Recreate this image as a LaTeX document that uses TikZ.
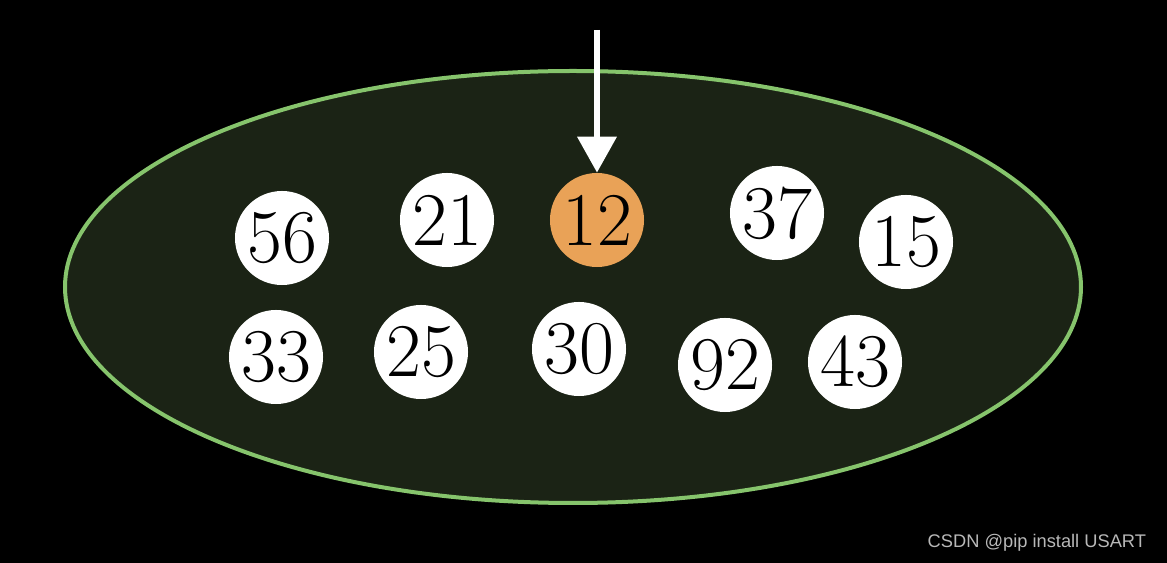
\documentclass[tikz,border=0pt]{standalone}
\usepackage{fontspec}
\setsansfont{Liberation Sans}
\usetikzlibrary{arrows.meta, shapes.geometric}
\definecolor{cbg}{HTML}{000000}
\definecolor{cfield}{HTML}{1B2315}
\definecolor{cedge}{HTML}{86C46C}
\definecolor{corange}{HTML}{E9A257}
\definecolor{cmark}{HTML}{B8B8B8}
\tikzset{
  ball/.style={circle, draw=none, fill=#1, minimum size=2.35cm, inner sep=0pt,
               font=\fontsize{54}{60}\selectfont, text=black},
  ball/.default=white,
  pointer/.style={-{Triangle[width=0.95cm, length=0.9cm]}, draw=white, line width=0.17cm},
  credit/.style={font=\sffamily\fontsize{13}{15}\selectfont, text=cmark, anchor=east},
}

\begin{document}
\begin{tikzpicture}[x=0.025cm, y=-0.025cm]
  \fill[cbg] (0,0) rectangle (1167,563);
  \useasboundingbox (0,0) rectangle (1167,563);
  \draw[cedge, fill=cfield, line width=0.1cm] (573,287) ellipse [x radius=508, y radius=216];
  % top row
  \node[ball] (b56) at (282, 238) {56};
  \node[ball] (b21) at (447, 220) {21};
  \node[ball=corange] (b12) at (597, 220) {12};
  \node[ball] (b37) at (777, 213) {37};
  \node[ball] (b15) at (906, 242) {15};
  % bottom row
  \node[ball] (b33) at (276, 357) {33};
  \node[ball] (b25) at (421, 352) {25};
  \node[ball] (b30) at (579, 349) {30};
  \node[ball] (b92) at (725, 365) {92};
  \node[ball] (b43) at (855, 362) {43};
  \coordinate (top) at (597, 30);
  \draw[pointer] (top) -- (b12.north);
  \node[credit] (watermark) at (1151, 543) {CSDN @pip install USART};
\end{tikzpicture}
\end{document}
